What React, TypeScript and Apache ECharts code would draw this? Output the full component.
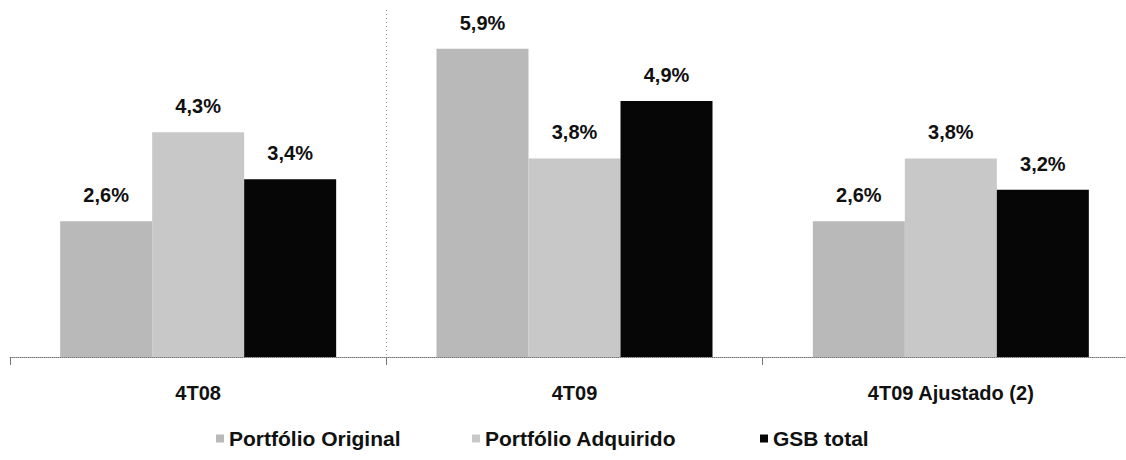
import React, { useEffect, useRef } from "react";
import * as echarts from "echarts";

const categories = ["4T08", "4T09", "4T09 Ajustado (2)"];
const seriesNames = ["Portfólio Original", "Portfólio Adquirido", "GSB total"];
const portfolioOriginal = [2.6, 5.9, 2.6];
const portfolioAdquirido = [4.3, 3.8, 3.8];
const gsbTotal = [3.4, 4.9, 3.2];
const seriesColors = ["#b9b9b9", "#c8c8c8", "#060606"];
const legendLeft = [211, 467, 755];

const FONT = "'Liberation Sans', Arial, sans-serif";

export default function App() {
  const ref = useRef<HTMLDivElement>(null);
  useEffect(() => {
    document.body.style.margin = "0";
    if (!ref.current) return;
    const chart = echarts.init(ref.current, null, { renderer: "svg" });
    const values = [portfolioOriginal, portfolioAdquirido, gsbTotal];
    chart.setOption({
      animation: false,
      backgroundColor: "#ffffff",
      grid: {
        left: 10,
        top: 20,
        width: 1129,
        bottom: 103,
        containLabel: false,
        outerBoundsMode: "none",
      },
      legend: seriesNames.map((n, i) => ({
        data: [n],
        left: legendLeft[i],
        top: 423,
        icon: "rect",
        itemWidth: 8,
        itemHeight: 8,
        itemGap: 4,
        textStyle: { fontFamily: FONT, fontWeight: "bold", fontSize: 21, color: "#111" },
      })),
      xAxis: {
        type: "category",
        data: categories,
        boundaryGap: true,
        axisLine: { show: true, lineStyle: { color: "#777", type: "dotted", width: 1 } },
        axisTick: { show: true, length: 8, lineStyle: { color: "#777" } },
        axisLabel: {
          margin: 26,
          fontFamily: FONT,
          fontWeight: "bold",
          fontSize: 20,
          color: "#111",
        },
        splitLine: { show: false },
      },
      yAxis: {
        type: "value",
        min: 0,
        max: 6.45,
        show: false,
        splitLine: { show: false },
      },
      series: seriesNames.map((n, i) => ({
        name: n,
        type: "bar",
        data: values[i],
        barWidth: 92,
        barGap: "0%",
        itemStyle: { color: seriesColors[i] },
        label: {
          show: true,
          position: "top",
          distance: 16,
          fontFamily: FONT,
          fontWeight: "bold",
          fontSize: 20,
          color: "#111",
          formatter: (p: any) => String(p.value.toFixed(1)).replace(".", ",") + "%",
        },
      })),
    });
    const a = chart.convertToPixel({ xAxisIndex: 0 }, categories[0]) as number;
    const b = chart.convertToPixel({ xAxisIndex: 0 }, categories[1]) as number;
    const base = chart.convertToPixel({ yAxisIndex: 0 }, 0) as number;
    const sepX = Math.round((a + b) / 2) + 0.5;
    chart.setOption({
      graphic: [
        {
          type: "line",
          silent: true,
          shape: { x1: sepX, y1: 10, x2: sepX, y2: base },
          style: { stroke: "#999", lineWidth: 1, lineDash: [1, 3] },
        },
      ],
    });
    return () => chart.dispose();
  }, []);
  return <div ref={ref} style={{ width: 1126, height: 460 }} />;
}
